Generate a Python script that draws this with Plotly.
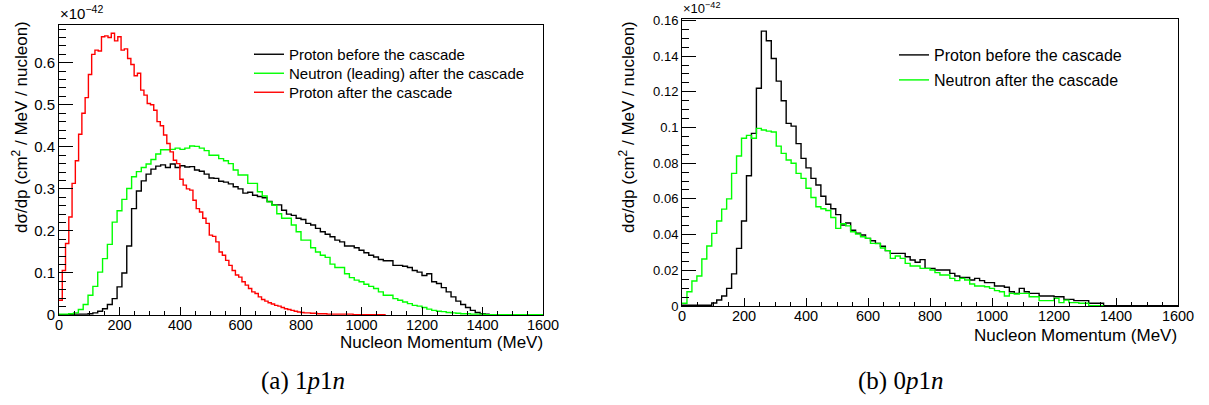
import plotly.graph_objects as go

# ---------------- data (units of 1e-42 cm^2/MeV/nucleon) ----------------
# Panel (a) 1p1n
RED_BIN_MEV = 10.8      # proton after cascade
BW_BIN_MEV = 16.0       # proton before / neutron after
a_proton_after = [0.035, 0.106, 0.17, 0.233, 0.313, 0.367, 0.43, 0.48, 0.517, 0.572,
                  0.62, 0.63, 0.628, 0.662, 0.664, 0.66, 0.67, 0.652, 0.662, 0.63,
                  0.633, 0.61, 0.596, 0.569, 0.575, 0.535, 0.523, 0.503, 0.5, 0.487,
                  0.46, 0.45, 0.428, 0.408, 0.388, 0.368, 0.36, 0.323, 0.309, 0.3,
                  0.297, 0.273, 0.253, 0.245, 0.23, 0.218, 0.19, 0.187, 0.174, 0.15,
                  0.142, 0.13, 0.118, 0.106, 0.095, 0.09, 0.079, 0.071, 0.063, 0.055,
                  0.051, 0.043, 0.037, 0.033, 0.029, 0.026, 0.023, 0.021, 0.018, 0.015,
                  0.013, 0.011, 0.009, 0.007, 0.006, 0.005, 0.005, 0.004, 0.004, 0.003,
                  0.003, 0.003, 0.002, 0.002, 0.002, 0.002, 0.002, 0.002, 0.002, 0.002,
                  0.001, 0.001, 0.001, 0.001, 0.001, 0.001, 0.001, 0.001, 0.001, 0.001]
a_proton_before = [0.001, 0.001, 0.001, 0.002, 0.002, 0.002, 0.003, 0.005, 0.009, 0.015,
                   0.025, 0.039, 0.067, 0.1, 0.164, 0.253, 0.295, 0.319, 0.335, 0.347,
                   0.354, 0.357, 0.351, 0.359, 0.351, 0.355, 0.352, 0.353, 0.345, 0.342,
                   0.335, 0.326, 0.325, 0.318, 0.316, 0.312, 0.305, 0.3, 0.29, 0.292,
                   0.285, 0.282, 0.279, 0.27, 0.262, 0.262, 0.249, 0.24, 0.237, 0.23,
                   0.227, 0.218, 0.214, 0.206, 0.198, 0.192, 0.186, 0.178, 0.174, 0.164,
                   0.164, 0.16, 0.154, 0.148, 0.142, 0.138, 0.132, 0.129, 0.129, 0.118,
                   0.118, 0.116, 0.113, 0.106, 0.102, 0.094, 0.098, 0.079, 0.075, 0.065,
                   0.055, 0.043, 0.033, 0.025, 0.018, 0.011, 0.006, 0.003, 0.002]
a_neutron_after = [0.002, 0.002, 0.003, 0.005, 0.013, 0.025, 0.047, 0.068, 0.102, 0.134,
                   0.168, 0.221, 0.248, 0.275, 0.301, 0.329, 0.341, 0.351, 0.359, 0.37,
                   0.383, 0.393, 0.393, 0.394, 0.397, 0.394, 0.397, 0.402, 0.401, 0.397,
                   0.391, 0.38, 0.38, 0.372, 0.367, 0.36, 0.345, 0.333, 0.333, 0.313,
                   0.313, 0.293, 0.283, 0.269, 0.261, 0.241, 0.23, 0.23, 0.214, 0.198,
                   0.178, 0.178, 0.16, 0.15, 0.142, 0.137, 0.121, 0.113, 0.113, 0.098,
                   0.089, 0.083, 0.079, 0.073, 0.068, 0.063, 0.055, 0.047, 0.047, 0.039,
                   0.035, 0.031, 0.027, 0.023, 0.021, 0.018, 0.014, 0.011, 0.009, 0.008,
                   0.006, 0.005, 0.004, 0.003, 0.003, 0.002, 0.002, 0.002, 0.001, 0.001,
                   0.001, 0.001, 0.001, 0.001, 0.0005, 0.0005, 0.0005, 0.0005, 0.0005, 0.0005]

# Panel (b) 0p1n
b_proton_before = [0.0004, 0.0004, 0.0004, 0.0004, 0.0004, 0.0004, 0.0017, 0.0034, 0.0056, 0.0099,
                   0.018, 0.0323, 0.0476, 0.073, 0.0967, 0.122, 0.154, 0.1486, 0.1387, 0.126,
                   0.115, 0.1023, 0.1008, 0.091, 0.0827, 0.0774, 0.0715, 0.0678, 0.0615, 0.057,
                   0.0545, 0.0512, 0.0454, 0.0465, 0.0424, 0.0408, 0.0398, 0.0379, 0.0366, 0.0351,
                   0.0335, 0.031, 0.0295, 0.0295, 0.0295, 0.0276, 0.0258, 0.0245, 0.026, 0.0211,
                   0.0211, 0.0202, 0.0202, 0.0202, 0.0183, 0.0168, 0.016, 0.016, 0.0146, 0.0155,
                   0.0142, 0.0131, 0.0131, 0.0112, 0.0112, 0.0105, 0.008, 0.0071, 0.0099, 0.008,
                   0.0071, 0.0071, 0.0056, 0.0056, 0.0056, 0.0052, 0.0052, 0.0037, 0.0037, 0.003,
                   0.003, 0.003, 0.0015, 0.0015, 0.0015, 0.0002, 0.0002, 0.0002, 0.0002, 0.0002,
                   0.0002, 0.0002, 0.0002, 0.0002, 0.0002, 0.0002, 0.0002, 0.0002, 0.0002, 0.0002]
b_neutron_after = [0.0015, 0.008, 0.014, 0.0168, 0.0263, 0.0336, 0.0407, 0.0476, 0.0543, 0.06,
                   0.0743, 0.084, 0.094, 0.0956, 0.094, 0.0995, 0.0986, 0.098, 0.0975, 0.0896,
                   0.0855, 0.0818, 0.08, 0.0743, 0.0715, 0.066, 0.0608, 0.0556, 0.0545, 0.0535,
                   0.0496, 0.0435, 0.0461, 0.0449, 0.0416, 0.0403, 0.0388, 0.0379, 0.0351, 0.035,
                   0.0325, 0.031, 0.0267, 0.028, 0.0267, 0.0239, 0.0224, 0.0224, 0.0211, 0.0211,
                   0.0202, 0.0187, 0.0174, 0.0174, 0.0155, 0.0142, 0.0155, 0.0146, 0.0123, 0.0112,
                   0.0112, 0.0108, 0.0099, 0.0086, 0.008, 0.0056, 0.0071, 0.0067, 0.0071, 0.0071,
                   0.0052, 0.0052, 0.003, 0.003, 0.003, 0.0043, 0.0019, 0.0033, 0.0019, 0.0019,
                   0.0015, 0.0015, 0.0002, 0.0002, 0.0002]

names_a = ["Proton before the cascade", "Neutron (leading) after the cascade", "Proton after the cascade"]
names_b = ["Proton before the cascade", "Neutron after the cascade"]
x_ticks = [0, 200, 400, 600, 800, 1000, 1200, 1400, 1600]

W, H = 1209, 405
FONT = "Liberation Sans"
SERIF = "Liberation Serif"


def px(x):
    return x / W


def py(y):
    return 1 - y / H


def steps(values, width):
    xs = [i * width for i in range(len(values) + 1)]
    ys = list(values) + [values[-1]]
    return xs, ys


fig = go.Figure()

# panel (a): one single-entry legend per series so rows sit where the reference has them
for vals, bw, name, col, leg in [(a_proton_before, BW_BIN_MEV, names_a[0], "#000000", "legend"),
                                 (a_neutron_after, BW_BIN_MEV, names_a[1], "#00ff00", "legend3"),
                                 (a_proton_after, RED_BIN_MEV, names_a[2], "#ff0000", "legend4")]:
    xs, ys = steps(vals, bw)
    fig.add_trace(go.Scatter(x=xs, y=ys, mode="lines", line=dict(color=col, width=1.4, shape="hv"),
                             name=name, xaxis="x", yaxis="y", legend=leg))

# panel (b)
for vals, name, col, leg in [(b_proton_before, names_b[0], "#000000", "legend2"),
                             (b_neutron_after, names_b[1], "#00ff00", "legend5")]:
    xs, ys = steps(vals, BW_BIN_MEV)
    fig.add_trace(go.Scatter(x=xs, y=ys, mode="lines", line=dict(color=col, width=1.4, shape="hv"),
                             name=name, xaxis="x2", yaxis="y2", legend=leg))


def xaxis(domain, anchor, fs):
    return dict(domain=domain, anchor=anchor, range=[0, 1600], tickvals=x_ticks,
                ticks="inside", ticklen=8, tickwidth=1, tickcolor="black",
                minor=dict(dtick=50, tick0=0, ticks="inside", ticklen=4, tickcolor="black"),
                showline=True, linecolor="black", linewidth=1, mirror=True,
                showgrid=False, zeroline=False, automargin=False, ticklabelstandoff=-3,
                tickfont=dict(family=FONT, size=fs, color="black"))


def yaxis(domain, anchor, rng, dtick, mdtick, fs):
    return dict(domain=domain, anchor=anchor, range=rng, dtick=dtick, tick0=0,
                ticks="inside", ticklen=14, tickwidth=1, tickcolor="black",
                minor=dict(dtick=mdtick, tick0=0, ticks="inside", ticklen=7, tickcolor="black"),
                showline=True, linecolor="black", linewidth=1, mirror=True,
                showgrid=False, zeroline=False, automargin=False,
                tickfont=dict(family=FONT, size=fs, color="black"))


def legend(x_left, y_top, fs):
    return dict(x=px(x_left), y=py(y_top), xanchor="left", yanchor="top", bgcolor="rgba(0,0,0,0)",
                borderwidth=0, itemwidth=30, font=dict(family=FONT, size=fs, color="black"))


ytitle = "dσ/dp (cm<sup>2</sup> / MeV / nucleon)"
xtitle = "Nucleon Momentum (MeV)"

annotations = [
    dict(text=xtitle, xref="paper", yref="paper", x=px(545), y=py(342), xanchor="right", yanchor="middle",
         showarrow=False, font=dict(family=FONT, size=17, color="black")),
    dict(text=xtitle, xref="paper", yref="paper", x=px(1179), y=py(335), xanchor="right", yanchor="middle",
         showarrow=False, font=dict(family=FONT, size=17, color="black")),
    dict(text=ytitle, xref="paper", yref="paper", x=px(20), y=py(19), xanchor="center", yanchor="top",
         textangle=-90, showarrow=False, font=dict(family=FONT, size=17, color="black")),
    dict(text=ytitle, xref="paper", yref="paper", x=px(627), y=py(19), xanchor="center", yanchor="top",
         textangle=-90, showarrow=False, font=dict(family=FONT, size=17, color="black")),
    dict(text="×10<sup>−42</sup>", xref="paper", yref="paper", x=px(58), y=py(24), xanchor="left",
         yanchor="bottom", showarrow=False, font=dict(family=FONT, size=15, color="black")),
    dict(text="×10<sup>−42</sup>", xref="paper", yref="paper", x=px(681), y=py(18), xanchor="left",
         yanchor="bottom", showarrow=False, font=dict(family=FONT, size=13, color="black")),
    dict(text="(a) 1<i>p</i>1<i>n</i>", xref="paper", yref="paper", x=px(303), y=py(381), xanchor="center",
         yanchor="middle", showarrow=False, font=dict(family=SERIF, size=25, color="black")),
    dict(text="(b) 0<i>p</i>1<i>n</i>", xref="paper", yref="paper", x=px(900), y=py(381), xanchor="center",
         yanchor="middle", showarrow=False, font=dict(family=SERIF, size=25, color="black")),
]

fig.update_layout(
    width=W, height=H, margin=dict(l=0, r=0, t=0, b=0, pad=0, autoexpand=False),
    paper_bgcolor="white", plot_bgcolor="white",
    xaxis=xaxis([px(59), px(543)], "y", 14.5),
    yaxis=yaxis([py(315), py(25)], "x", [0, 0.6898], 0.1, 0.02, 15),
    xaxis2=xaxis([px(682), px(1178)], "y2", 14.5),
    yaxis2=yaxis([py(306), py(19)], "x2", [0, 0.1608], 0.02, 0.005, 13),
    legend=legend(249, 38, 15),
    legend3=legend(249, 57, 15),
    legend4=legend(249, 76, 15),
    legend2=legend(894, 38, 16),
    legend5=legend(894, 63, 16),
    annotations=annotations,
    showlegend=True,
)

fig.write_html("out.html")
